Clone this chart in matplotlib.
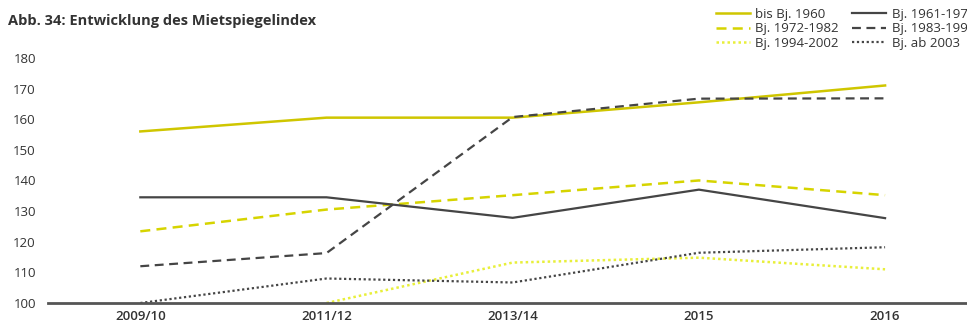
import matplotlib
matplotlib.use("Agg")
import matplotlib.pyplot as plt

plt.rcParams['font.family'] = ['Open Sans', 'DejaVu Sans']

# categories and index values
periods = ['2009/10', '2011/12', '2013/14', '2015', '2016']
bis_1960 = [156, 160.5, 160.5, 165.5, 171]
bj_1961_1971 = [134.5, 134.5, 127.8, 137, 127.7]
bj_1972_1982 = [123.4, 130.5, 135.2, 140, 135.2]
bj_1983_1993 = [112, 116.3, 160.7, 166.7, 166.8]
bj_1994_2002 = [None, 100, 113.2, 114.8, 111]
bj_ab_2003 = [100, 108, 106.7, 116.4, 118.2]
y_ticks = [100, 110, 120, 130, 140, 150, 160, 170, 180]

yellow = '#cfc600'
yellow_dash = '#d6d400'
yellow_light = '#e8ef3a'
grey = '#454545'

fig = plt.figure(figsize=(9.67, 3.29), dpi=100)
ax = fig.add_axes([0.05, 0.079, 0.95, 0.745])

x = list(range(len(periods)))


def pts(vals):
    xs = [i for i, v in zip(x, vals) if v is not None]
    ys = [v for v in vals if v is not None]
    return xs, ys


series = [
    (bis_1960, 'bis Bj. 1960', yellow, '-', 1.8),
    (bj_1972_1982, 'Bj. 1972-1982', yellow_dash, (0, (4, 2.5)), 1.8),
    (bj_1994_2002, 'Bj. 1994-2002', yellow_light, (0, (1, 1.2)), 1.8),
    (bj_1961_1971, 'Bj. 1961-1971', grey, '-', 1.6),
    (bj_1983_1993, 'Bj. 1983-1993', grey, (0, (4, 2.5)), 1.6),
    (bj_ab_2003, 'Bj. ab 2003', grey, (0, (1, 1.2)), 1.6),
]

handles = []
for vals, label, color, ls, lw in series:
    xs, ys = pts(vals)
    h, = ax.plot(xs, ys, color=color, linestyle=ls, linewidth=lw, label=label)
    handles.append(h)

ax.set_xlim(-0.494, 4.44)
ax.set_ylim(100, 180)
ax.set_yticks(y_ticks)
ax.set_xticks(x)
ax.set_xticklabels(periods, fontweight='semibold', fontsize=9.5, color='#333333')
ax.tick_params(axis='both', length=0)
ax.tick_params(axis='y', labelsize=9.5, labelcolor='#333333', pad=9)
ax.tick_params(axis='x', pad=5)

for side in ['top', 'right', 'left']:
    ax.spines[side].set_visible(False)
ax.spines['bottom'].set_color('#555555')
ax.spines['bottom'].set_linewidth(2)
ax.spines['bottom'].set_zorder(5)

fig.text(0.008, 0.925, 'Abb. 34: Entwicklung des Mietspiegelindex',
         fontsize=10.5, fontweight='bold', color='#333333')

fig.legend(handles=handles, ncol=2, loc='upper left',
           bbox_to_anchor=(0.732, 1.0), frameon=False, fontsize=9.5,
           handlelength=2.6, handletextpad=0.4, columnspacing=1.0,
           labelspacing=0.1, borderaxespad=0.2, labelcolor='#333333')

fig.savefig('out.png', dpi=100)
